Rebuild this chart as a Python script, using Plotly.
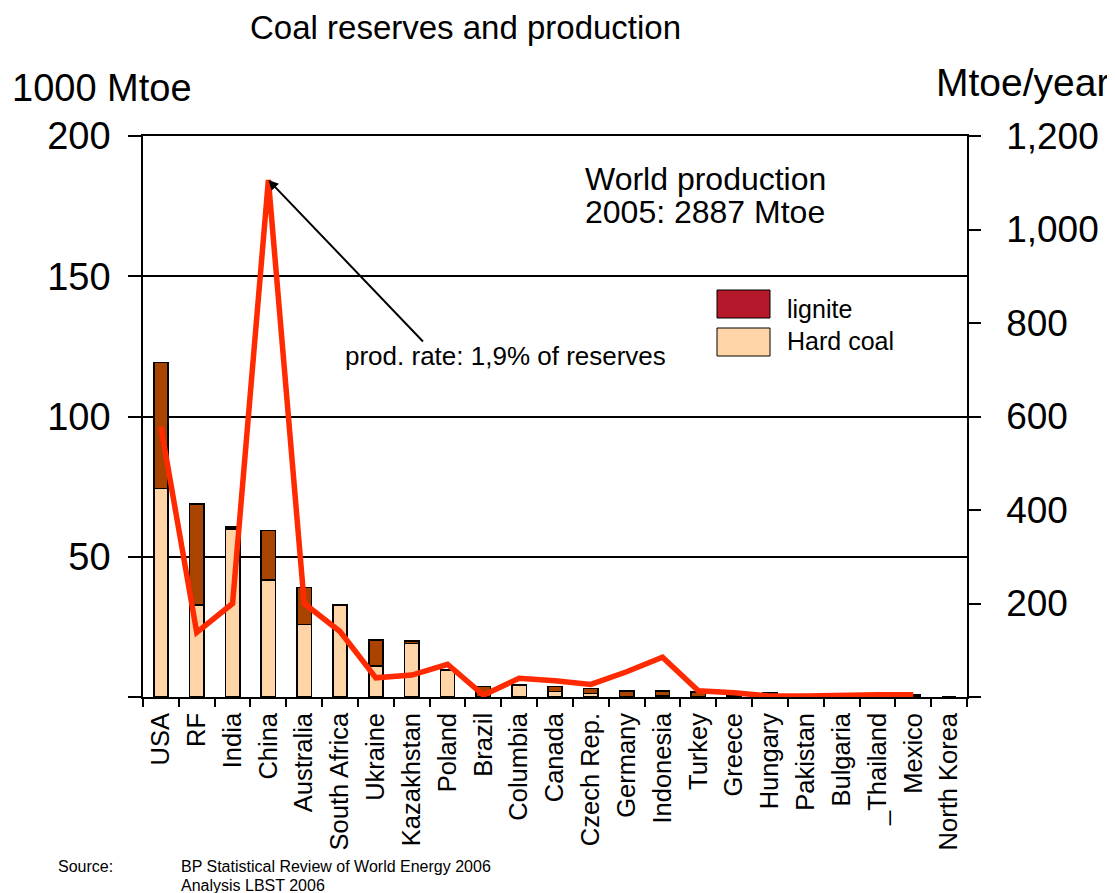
import plotly.graph_objects as go

countries = ["USA", "RF", "India", "China", "Australia", "South Africa", "Ukraine",
             "Kazakhstan", "Poland", "Brazil", "Columbia", "Canada", "Czech Rep.",
             "Germany", "Indonesia", "Turkey", "Greece", "Hungary", "Pakistan",
             "Bulgaria", "_Thailand", "Mexico", "North Korea"]
# reserves, 1000 Mtoe
hard_coal = [74.4, 32.7, 59.9, 41.7, 25.8, 32.8, 11.0, 19.1, 9.6, 0.0, 4.3, 1.9, 1.3,
             0.1, 0.6, 0.2, 0.0, 0.2, 0.0, 0.0, 0.0, 0.4, 0.0]
lignite = [44.8, 36.1, 0.7, 17.6, 13.2, 0.0, 9.4, 0.9, 0.0, 3.7, 0.0, 1.8, 1.8,
           2.1, 1.6, 1.5, 0.8, 1.3, 0.4, 0.5, 0.3, 0.4, 0.0]
# production 2005, Mtoe/year
production = [578, 138, 200, 1106, 200, 140, 41, 47, 70, 4, 40, 35, 27, 54, 85, 13.5,
              9, 2, 2, 4, 5, 5, None]

left_ticks = [0, 50, 100, 150, 200]
left_labels = ["", "50", "100", "150", "200"]
right_ticks = [0, 200, 400, 600, 800, 1000, 1200]
right_labels = ["", "200", "400", "600", "800", "1,000", "1,200"]

FONT = "Liberation Sans, Arial, Helvetica, sans-serif"
OFF = 8  # default page body margin
PAGE_W, PAGE_H = 1115, 893
W, H = PAGE_W - OFF, PAGE_H - OFF
L, R, T, B = 143, 967, 136, 697  # plot area in page pixels


def px(x):
    return (x - L) / (R - L)


def py(y):
    return (B - y) / (B - T)


fig = go.Figure()
fig.add_trace(go.Bar(x=countries, y=hard_coal, name="Hard coal", width=0.4,
                     marker=dict(color="#FFD5A8", line=dict(color="black", width=1.6)),
                     showlegend=False))
fig.add_trace(go.Bar(x=countries, y=lignite, name="lignite", width=0.4,
                     marker=dict(color="#A84300", line=dict(color="black", width=1.6)),
                     showlegend=False))
fig.add_trace(go.Scatter(x=countries, y=production, yaxis="y2", mode="lines",
                         line=dict(color="#FF2A00", width=5.5), connectgaps=False,
                         showlegend=False))


def note(text, x, y, size, xanchor="left"):
    return dict(text=text, x=px(x), y=py(y), xref="paper", yref="paper",
                xanchor=xanchor, yanchor="middle", showarrow=False, font=dict(size=size))


annotations = [
    note("Coal reserves and production", 465, 28, 33, "center"),
    note("1000 Mtoe", 102, 88, 38, "center"),
    note("Mtoe/year", 1022, 82, 39, "center"),
    note("World production", 583, 179, 32),
    note("2005: 2887 Mtoe", 583, 212, 32),
    note("prod. rate: 1,9% of reserves", 505, 356, 26, "center"),
    dict(text="", x="China", y=production[3], xref="x", yref="y2", showarrow=True,
         ax=156, ay=163, arrowhead=2, arrowsize=1, arrowwidth=2, arrowcolor="black", standoff=0),
    note("lignite", 785, 309, 25),
    note("Hard coal", 785, 341, 25),
    note("Source:", 56, 866, 16),
    note("BP Statistical Review of World Energy 2006", 179, 866, 16),
    note("Analysis LBST 2006", 179, 885, 16),
]

shapes = [
    dict(type="rect", xref="paper", yref="paper", x0=px(717), x1=px(770), y0=py(318), y1=py(290),
         fillcolor="#B5182B", line=dict(color="black", width=1)),
    dict(type="rect", xref="paper", yref="paper", x0=px(717), x1=px(770), y0=py(356), y1=py(328),
         fillcolor="#FFD5A8", line=dict(color="black", width=1)),
]

fig.update_layout(
    width=W, height=H,
    margin=dict(l=L - OFF, r=PAGE_W - R, t=T - OFF, b=PAGE_H - B, pad=0),
    paper_bgcolor="white", plot_bgcolor="white",
    font=dict(family=FONT, color="black"),
    barmode="stack", bargap=0.6,
    annotations=annotations, shapes=shapes,
    xaxis=dict(type="category", tickangle=-90, tickfont=dict(size=25.5),
               ticks="outside", ticklen=8, tickwidth=1.5, tickcolor="black", tickson="boundaries",
               ticklabelstandoff=4,
               showline=True, linecolor="black", linewidth=1.5, mirror=True,
               showgrid=False, zeroline=False),
    yaxis=dict(range=[0, 200], tickvals=left_ticks, ticktext=left_labels, tickfont=dict(size=38),
               ticks="outside", ticklen=13, tickwidth=1.5, tickcolor="black", ticklabelstandoff=10,
               showline=True, linecolor="black", linewidth=1.5,
               showgrid=True, gridcolor="black", gridwidth=1.5, zeroline=False),
    yaxis2=dict(range=[0, 1200], tickvals=right_ticks, ticktext=right_labels, tickfont=dict(size=37),
                overlaying="y", side="right",
                ticks="outside", ticklen=12, tickwidth=1.5, tickcolor="black", ticklabelstandoff=18,
                showline=True, linecolor="black", linewidth=1.5,
                showgrid=False, zeroline=False),
)

fig.write_html("out.html")
